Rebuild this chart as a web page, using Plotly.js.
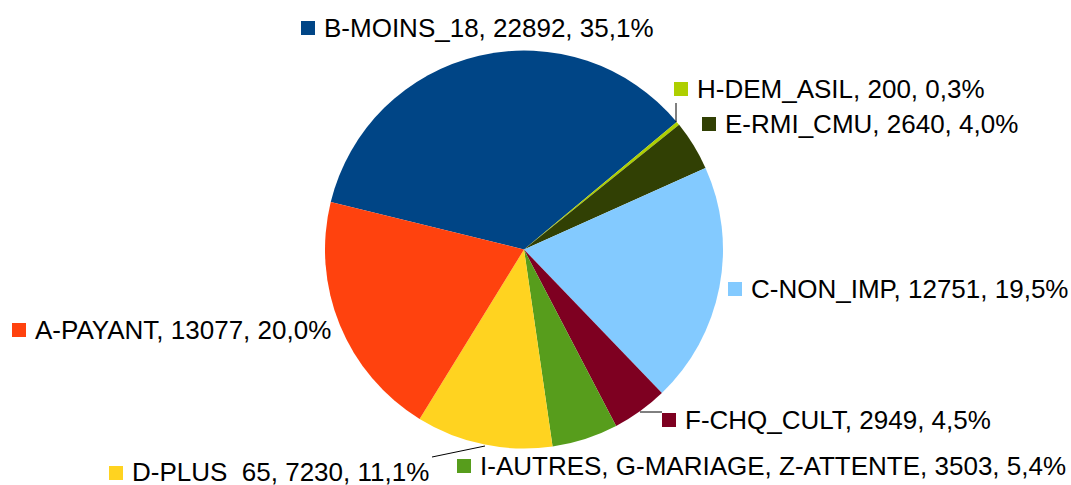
<!DOCTYPE html>
<html>
<head>
<meta charset="utf-8">
<script src="https://cdn.plot.ly/plotly-3.0.1.min.js"></script>
<style>html,body{margin:0;padding:0;background:#fff;}#chart{width:1071px;height:485px;}</style>
</head>
<body>
<div id="chart"></div>
<script>
// Data (pie order, clockwise from B)
const categories = ["B-MOINS_18", "H-DEM_ASIL", "E-RMI_CMU", "C-NON_IMP", "F-CHQ_CULT", "I-AUTRES, G-MARIAGE, Z-ATTENTE", "D-PLUS\u00a0\u00a065", "A-PAYANT"];
const values = [22892, 200, 2640, 12751, 2949, 3503, 7230, 13077];
const colors = ["#004586", "#aecf00", "#314004", "#83caff", "#7e0021", "#579d1c", "#ffd320", "#ff420e"];

// Label layout (pixel positions: square left, square top, text centre y)
const labelPos = [
  [301, 21, 28],
  [674, 82, 89],
  [702, 117, 124],
  [728, 282, 289],
  [662, 413, 420],
  [457, 459, 466],
  [109, 466, 472],
  [12, 323, 330]
];
const leaders = [
  [676, 103, 676, 122],
  [640, 412, 662, 412],
  [485, 446, 432, 457]
];

const W = 1071, H = 485;
const px = x => x / W;
const py = y => 1 - y / H;
const total = values.reduce((a, b) => a + b, 0);
const pct = v => (v / total * 100).toFixed(1).replace('.', ',') + '%';

const cx = 524, cy = 249.5, R = 199;

const trace = {
  type: 'pie',
  labels: categories,
  values: values,
  sort: false,
  direction: 'clockwise',
  rotation: -76.2,
  marker: {colors: colors, line: {width: 0}},
  textinfo: 'none',
  hoverinfo: 'none',
  showlegend: false,
  domain: {x: [px(cx - R), px(cx + R)], y: [py(cy + R), py(cy - R)]}
};

const annotations = [];
const shapes = [];
const SQ = 14;
categories.forEach((c, i) => {
  const [sx, sy, ty] = labelPos[i];
  shapes.push({type: 'rect', xref: 'paper', yref: 'paper',
    x0: px(sx), x1: px(sx + SQ), y0: py(sy + SQ), y1: py(sy),
    fillcolor: colors[i], line: {width: 0}});
  annotations.push({xref: 'paper', yref: 'paper', x: px(sx + SQ + 7), y: py(ty),
    xanchor: 'left', yanchor: 'middle', showarrow: false,
    text: c + ', ' + values[i] + ', ' + pct(values[i]),
    font: {family: 'Liberation Sans, Arial, sans-serif', size: 26, color: '#000'}});
});
leaders.forEach(l => {
  shapes.push({type: 'line', xref: 'paper', yref: 'paper',
    x0: px(l[0]), y0: py(l[1]), x1: px(l[2]), y1: py(l[3]),
    line: {color: '#000', width: 1}});
});

const layout = {
  width: W, height: H,
  margin: {l: 0, r: 0, t: 0, b: 0},
  paper_bgcolor: '#fff',
  plot_bgcolor: '#fff',
  showlegend: false,
  annotations: annotations,
  shapes: shapes
};

Plotly.newPlot('chart', [trace], layout, {staticPlot: true, displayModeBar: false});
</script>
</body>
</html>
